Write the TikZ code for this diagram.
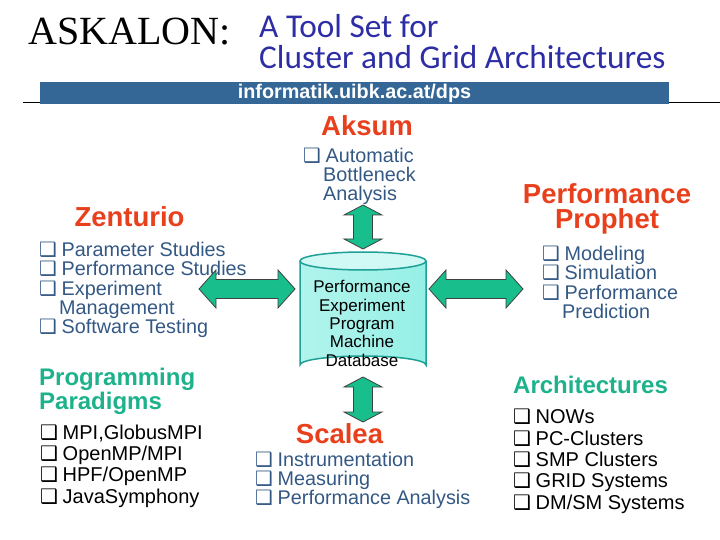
\documentclass[tikz,border=0pt]{standalone}
\usepackage{fontspec}
\setmainfont{Liberation Sans}
\newfontfamily\serifface{Liberation Serif}
\newfontfamily\handface{Carlito}
\newfontfamily\dingface{DejaVu Sans}
\usetikzlibrary{positioning,calc}

\definecolor{titlered}{RGB}{232,64,28}
\definecolor{listblue}{RGB}{52,88,132}
\definecolor{headgreen}{RGB}{30,178,140}
\definecolor{arrowgreen}{RGB}{24,190,140}
\definecolor{bandblue}{RGB}{52,102,150}
\definecolor{handblue}{RGB}{45,45,165}
\definecolor{cylline}{RGB}{30,160,150}
\definecolor{cylfill}{RGB}{150,240,230}

% hollow square bullet
\newcommand{\qb}{\makebox[22.5bp][l]{\dingface\char"2751}}

\begin{document}
\begin{tikzpicture}[
  x=1bp, y=-1bp,
  redtitle/.style={font=\bfseries\fontsize{27.5bp}{25bp}\selectfont, text=titlered, inner sep=0, align=center},
  greentitle/.style={font=\bfseries\fontsize{24bp}{22bp}\selectfont, text=headgreen, inner sep=0, align=left},
  bluelist/.style={font=\fontsize{19.8bp}{19bp}\selectfont, text=listblue, inner sep=0, align=left},
  blacklist/.style={font=\fontsize{20bp}{21.3bp}\selectfont, inner sep=0, align=left},
  dbtext/.style={font=\fontsize{17bp}{18.3bp}\selectfont, inner sep=0, align=center},
  arrowbody/.style={draw=black!75, line width=0.8bp, fill=arrowgreen},
  pics/dblarrow/.style n args={2}{code={
    \draw[arrowbody] (-#1/2,0) -- (-#1/2+#2,-19) -- (-#1/2+#2,-9.5) -- (#1/2-#2,-9.5)
      -- (#1/2-#2,-19) -- (#1/2,0) -- (#1/2-#2,19) -- (#1/2-#2,9.5)
      -- (-#1/2+#2,9.5) -- (-#1/2+#2,19) -- cycle;
  }}
]
\useasboundingbox (0,0) rectangle (720,540);

% Header
\node[anchor=base west, inner sep=0, font=\serifface\fontsize{40bp}{40bp}\selectfont] (askalon) at (28,45) {ASKALON:};
\node[anchor=base west, inner sep=0, align=left, text=handblue,
  font=\handface\fontsize{33.3bp}{31bp}\selectfont] (subtitle) at (259,69) {A Tool Set for\\Cluster and Grid Architectures};
\coordinate (ruleL) at (23,103);
\coordinate (ruleR) at (720,103);
\draw[line width=1bp] (ruleL) -- (ruleR);
\node[fill=bandblue, minimum width=629bp, minimum height=22bp, inner sep=0,
  text=white, font=\bfseries\fontsize{19.8bp}{20bp}\selectfont] (url) at (354.5,93) {informatik.uibk.ac.at/dps};

% Database cylinder
\path[left color=cylfill!75, middle color=white!70!cylfill, right color=cylfill]
  (300,261) -- (300,365) arc[start angle=180, end angle=360, x radius=63, y radius=9]
  -- (426,261) arc[start angle=0, end angle=180, x radius=63, y radius=9] -- cycle;
\draw[cylline, line width=1.5bp, fill=white!55!cylfill] (363,261) ellipse[x radius=63, y radius=9];
\draw[cylline, line width=1.5bp]
  (300,261) -- (300,365) arc[start angle=180, end angle=360, x radius=63, y radius=9] -- (426,261);
\node[dbtext, anchor=base] (db) at (362,366) {Performance\\Experiment\\Program\\Machine\\Database};

% Aksum
\node[redtitle, anchor=base] (aksum) at (367,136) {Aksum};
\node[bluelist, anchor=base west] (aksumlist) at (303,201) {\qb Automatic\\\hspace*{20bp}Bottleneck\\\hspace*{20bp}Analysis};

% Zenturio
\node[redtitle, anchor=base] (zenturio) at (129.5,227) {Zenturio};
\node[bluelist, anchor=base west] (zenlist) at (39,333) {\qb Parameter Studies\\\qb Performance Studies\\\qb Experiment\\\hspace*{20bp}Management\\\qb Software Testing};

% Performance Prophet
\node[redtitle, anchor=base] (prophet) at (607,229) {Performance\\Prophet};
\node[bluelist, anchor=base west] (prophlist) at (542,318) {\qb Modeling\\\qb Simulation\\\qb Performance\\\hspace*{20bp}Prediction};

% Scalea
\node[redtitle, anchor=base] (scalea) at (339.5,443) {Scalea};
\node[bluelist, anchor=base west] (scalist) at (255,504) {\qb Instrumentation\\\qb Measuring\\\qb Performance Analysis};

% Programming Paradigms
\node[greentitle, anchor=base west] (paradigms) at (39,409) {Programming\\Paradigms};
\node[blacklist, anchor=base west] (paralist) at (40,503) {\qb MPI,GlobusMPI\\\qb OpenMP/MPI\\\qb HPF/OpenMP\\\qb JavaSymphony};

% Architectures
\node[greentitle, anchor=base west] (archs) at (513,393) {Architectures};
\node[blacklist, anchor=base west] (archlist) at (513,509) {\qb NOWs\\\qb PC-Clusters\\\qb SMP Clusters\\\qb GRID Systems\\\qb DM/SM Systems};

% Block arrows
\pic[rotate=90] at (363,227) {dblarrow={44}{10}};
\pic[rotate=90] at (363,399.5) {dblarrow={45}{10}};
\pic at (247,289) {dblarrow={96}{17}};
\pic at (476,289) {dblarrow={94}{17}};
\end{tikzpicture}
\end{document}
